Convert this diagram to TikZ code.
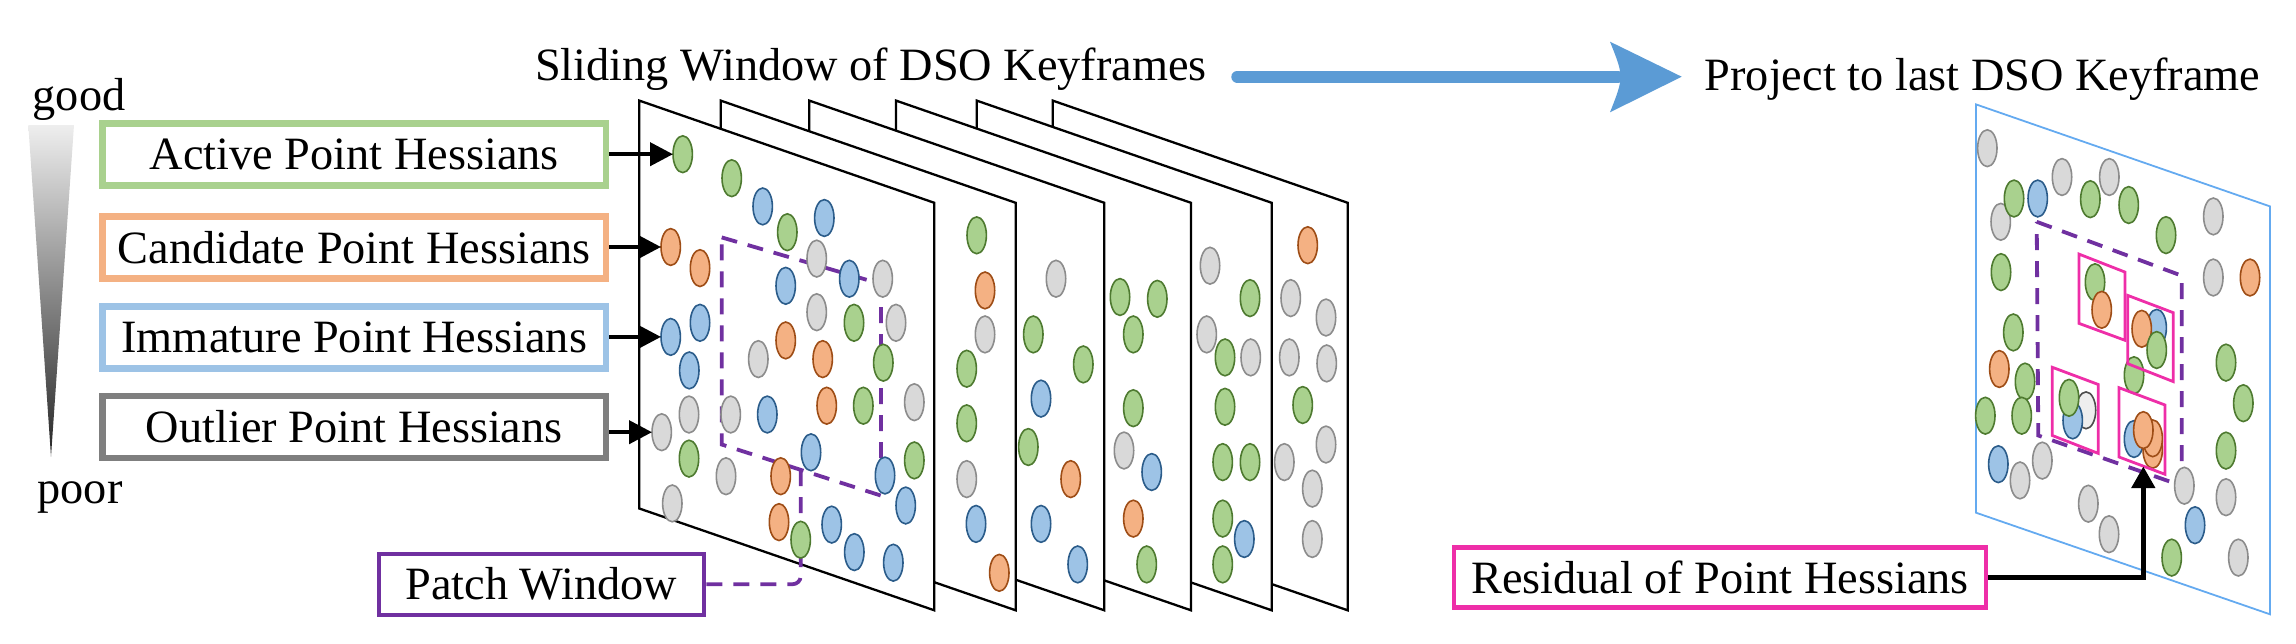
\documentclass[tikz,border=0pt]{standalone}
\usepackage{fontspec}
\setmainfont{Liberation Serif}
\usetikzlibrary{arrows.meta}
\definecolor{fg}{HTML}{A9D18E}\definecolor{lg}{HTML}{4E7A30}
\definecolor{fo}{HTML}{F4B183}\definecolor{lo}{HTML}{9E4D16}
\definecolor{fb}{HTML}{9DC3E6}\definecolor{lb}{HTML}{2B5C8A}
\definecolor{fy}{HTML}{D9D9D9}\definecolor{ly}{HTML}{8C8C8C}
\definecolor{fw}{HTML}{EEEEEE}\definecolor{lw}{HTML}{4D4D4D}
\definecolor{cgreen}{HTML}{A9D18E}
\definecolor{corange}{HTML}{F4B183}
\definecolor{cblue}{HTML}{9DC3E6}
\definecolor{cgray}{HTML}{7F7F7F}
\definecolor{cpurple}{HTML}{7030A0}
\definecolor{cmag}{RGB}{238,46,168}
\definecolor{arrblue}{HTML}{5B9BD5}
\definecolor{fblue}{RGB}{100,170,240}
\definecolor{tria}{HTML}{EEEEEE}
\definecolor{trib}{HTML}{262626}
\newcommand\elp[3]{\draw[line width=1.6pt,fill=f#1,draw=l#1] (#2,#3) ellipse [x radius=9.7pt, y radius=18.4pt];}
\newcommand\frm[1]{\draw[framestyle] (#1,100.6) -- ++(295,102.2) -- ++(0,407.5) -- ++(-295,-101.8) -- cycle;}
\begin{document}
\begin{tikzpicture}[x=1pt,y=-1pt,
  every node/.style={font=\fontsize{46.3}{50}\selectfont, text=black},
  legbox/.style={draw, line width=6.7pt, minimum width=503.3pt, minimum height=62pt, inner sep=0pt, fill=white},
  framestyle/.style={draw=black, fill=white, line width=2.3pt, line join=miter},
  pdash/.style={draw=cpurple, line width=3.8pt, dash pattern=on 16pt off 11pt},
  magbox/.style={draw=cmag, line width=2.8pt},
  barrow/.style={line width=4.2pt, -{Triangle[length=23pt,width=23pt]}}]
\useasboundingbox (0,0) rectangle (2296,643);

% quality scale
\node[anchor=base] (good) at (79,110) {good};
\node[anchor=base] (poor) at (80,503.3) {poor};
\shade[top color=tria, bottom color=trib] (28.3,125) -- (74,125) -- (51,456.7) -- cycle;

% legend boxes
\node[legbox, draw=cgreen] (act) at (354.3,154.2) {Active Point Hessians};
\node[legbox, draw=corange] (cand) at (354.3,247.8) {Candidate Point Hessians};
\node[legbox, draw=cblue] (imm) at (354.3,337.5) {Immature Point Hessians};
\node[legbox, draw=cgray] (outl) at (354.3,427) {Outlier Point Hessians};

% titles and blue arrow
\node[anchor=base] (title1) at (871,80) {Sliding Window of DSO Keyframes};
\node[anchor=base] (title2) at (1982.5,90.5) {Project to last DSO Keyframe};
\coordinate (ba1) at (1237.3,76.7);
\coordinate (ba2) at (1618,76.7);
\draw[line width=12pt, line cap=round, draw=arrblue] (ba1) -- (ba2);
\fill[arrblue] (1610,41.7) -- (1681.7,76.7) -- (1610,112.3) .. controls (1624,76.7) .. (1610,41.7) -- cycle;

% frame 6
\frm{1052.7}
\elp{o}{1307.7}{245.2}\elp{y}{1290.7}{298.1}\elp{y}{1326}{317.5}\elp{y}{1289.3}{357.4}
\elp{y}{1326.7}{363.4}\elp{g}{1302.7}{405}\elp{y}{1326}{444.5}\elp{y}{1284.3}{462.1}
\elp{y}{1312.3}{488.6}\elp{y}{1312.3}{539}
% frame 5
\frm{976.7}
\elp{y}{1210}{265.7}\elp{g}{1250}{298.1}\elp{y}{1206.7}{334.4}\elp{g}{1225}{357.4}
\elp{y}{1250.7}{357.4}\elp{g}{1225}{406.8}\elp{g}{1222.7}{462.1}\elp{g}{1250}{462.1}
\elp{g}{1222.7}{518.6}\elp{b}{1244.3}{539}\elp{g}{1222.7}{564.4}
% frame 4
\frm{896}
\elp{g}{1120}{297}\elp{g}{1157.3}{298.8}\elp{g}{1133.3}{334.4}\elp{g}{1133.3}{408.2}
\elp{y}{1124}{450.5}\elp{b}{1151.7}{472}\elp{o}{1133.3}{518.6}\elp{g}{1146.7}{564.4}
% frame 3
\frm{809.3}
\elp{y}{1056}{278.7}\elp{g}{1033.3}{334.4}\elp{g}{1083.3}{364.4}\elp{b}{1041}{398.6}
\elp{g}{1028.3}{447}\elp{o}{1070.7}{479.1}\elp{b}{1041}{523.9}\elp{b}{1077.7}{564.4}
% frame 2
\frm{720.7}
\elp{g}{976.7}{235.3}\elp{o}{985}{290.4}\elp{y}{985}{334.4}\elp{g}{966.7}{368.7}
\elp{g}{966.7}{423.3}\elp{y}{966.7}{479.1}\elp{b}{976}{523.9}\elp{o}{999.3}{572.8}
% frame 1
\frm{639.3}
\draw[pdash] (721.7,237.4) -- (881,284) -- (881,495.6) -- (721.7,444.5) -- cycle;
\node[draw=cpurple, line width=4pt, minimum width=325.3pt, minimum height=61pt, inner sep=0pt, fill=white] (patch) at (541.3,584.2) {Patch Window};
\draw[pdash, rounded corners=8pt] (800.7,470) -- (800.7,584.2) -- (patch.east);
\elp{g}{682.7}{154.2}\elp{g}{731.7}{178.2}\elp{b}{762.7}{206.4}\elp{g}{787.3}{232.2}
\elp{b}{824.3}{218}\elp{o}{670.7}{247}\elp{o}{700}{268.1}\elp{y}{816.7}{258.6}
\elp{b}{785.7}{285.8}\elp{b}{849.3}{278.7}\elp{y}{882.7}{278.7}\elp{y}{816.7}{312.2}
\elp{g}{854}{322.8}\elp{y}{896}{322.8}\elp{b}{700}{322.8}\elp{b}{670.7}{336.9}
\elp{o}{785.7}{340.4}\elp{y}{758.3}{359.1}\elp{o}{822.7}{359.1}\elp{g}{883.3}{362.7}
\elp{b}{689.3}{370.4}\elp{y}{689}{414.5}\elp{y}{730.7}{414.5}\elp{b}{767.3}{414.5}
\elp{o}{826.7}{405.7}\elp{g}{863.3}{405.7}\elp{y}{914.3}{402.2}\elp{y}{661.7}{432.2}
\elp{g}{689}{458.6}\elp{y}{726}{476.2}\elp{b}{811}{452.3}\elp{o}{780.7}{476.2}
\elp{g}{914.3}{460.4}\elp{b}{885}{475.5}\elp{y}{672.3}{503.4}\elp{b}{905.7}{505.5}
\elp{o}{779}{522.1}\elp{g}{800.7}{539.7}\elp{b}{831.7}{524.6}\elp{b}{854.3}{552.1}
\elp{b}{893.3}{562.7}

% arrows from legend to dots
\coordinate (t1) at (673,154.2);
\coordinate (t2) at (661,247);
\coordinate (t3) at (661,336.9);
\coordinate (t4) at (652,432.2);
\draw[barrow] (act.east) -- (t1);
\draw[barrow] (cand.east |- t2) -- (t2);
\draw[barrow] (imm.east |- t3) -- (t3);
\draw[barrow] (outl.east |- t4) -- (t4);

% projected keyframe
\draw[draw=fblue, line width=1.8pt] (1976,104.4) -- (2270,206.4) -- (2270,614.3) -- (1976,512.7) -- cycle;
\draw[pdash] (2036.7,221.8) -- (2181.7,275.7) -- (2181.7,485.7) -- (2038.3,435.5) -- cycle;
\elp{y}{1987.3}{148.2}\elp{y}{2000.7}{221.8}\elp{g}{2014}{198.5}\elp{b}{2037.7}{198.5}
\elp{y}{2062}{177}\elp{g}{2090.3}{199.2}\elp{y}{2109.3}{177}\elp{g}{2128.7}{205}
\elp{g}{2166}{235.1}\elp{y}{2213.3}{216.4}\elp{g}{2001}{272.1}\elp{y}{2213.3}{277.5}
\elp{o}{2250}{277.5}\elp{g}{2013.3}{332.4}\elp{o}{1999.3}{369}\elp{g}{2025}{381.6}
\elp{g}{1985.3}{415.7}\elp{g}{2021.7}{415.7}\elp{g}{2226}{362.6}\elp{g}{2243.3}{403.2}
\elp{g}{2226}{450.6}\elp{b}{1998.3}{464.2}\elp{y}{2020}{480.4}\elp{y}{2042.3}{460.6}
\elp{y}{2088.3}{503.7}\elp{y}{2109}{534.2}\elp{y}{2184.3}{485.7}\elp{y}{2226}{497.2}
\elp{b}{2195}{525.2}\elp{g}{2171.7}{557.6}\elp{y}{2238.3}{557.6}
\elp{g}{2095}{282.2}\elp{o}{2101.7}{309.8}
\elp{b}{2156.7}{327.8}\elp{o}{2141.7}{328.8}\elp{g}{2156.7}{350}
\elp{g}{2134}{375.2}
\elp{w}{2086}{410.3}\elp{b}{2072.7}{420.4}\elp{g}{2069}{397.8}
\elp{b}{2134}{439}\elp{o}{2152.7}{449.8}\elp{o}{2152.7}{438.3}\elp{o}{2143.3}{430.1}
\draw[magbox] (2079,254.1) -- (2125,272.1) -- (2125,340.3) -- (2079,323.4) -- cycle;
\draw[magbox] (2127.7,295.4) -- (2173.3,312.7) -- (2173.3,381.6) -- (2127.7,363.7) -- cycle;
\draw[magbox] (2052.3,367.3) -- (2098.3,384.5) -- (2098.3,453.4) -- (2052.3,435.5) -- cycle;
\draw[magbox] (2119,387.7) -- (2165,405) -- (2165,474.3) -- (2119,457) -- cycle;

\node[draw=cmag, line width=4.5pt, minimum width=532pt, minimum height=60.2pt, inner sep=0pt, fill=white] (resid) at (1720,577.5) {Residual of Point Hessians};
\coordinate (dtip) at (2143.3,466.5);
\draw[line width=4.5pt, -{Triangle[length=21.5pt,width=23pt]}] (resid.east) -| (dtip);
\end{tikzpicture}
\end{document}
